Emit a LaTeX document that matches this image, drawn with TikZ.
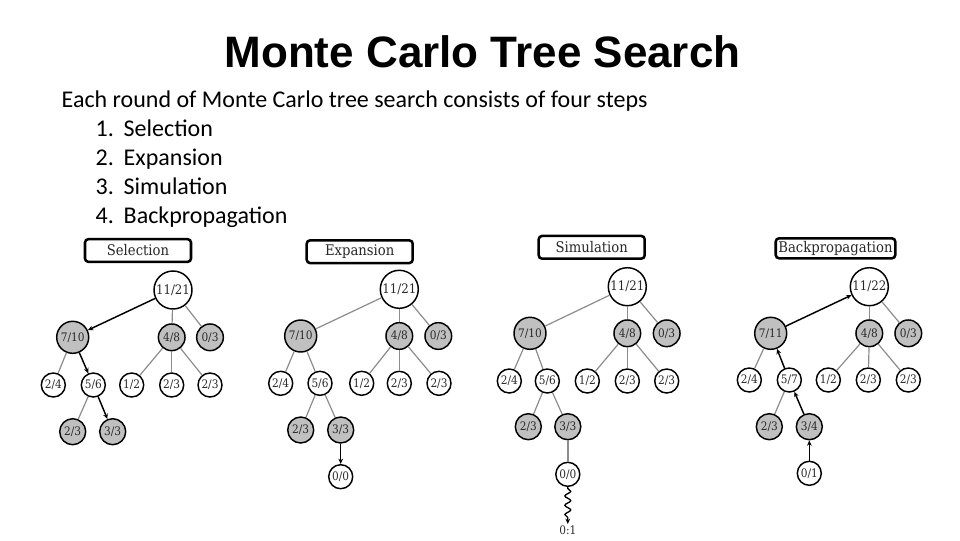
\documentclass[tikz,border=0pt]{standalone}
\usepackage{fontspec}
\setmainfont{Carlito}
\newfontfamily\titlefont{Liberation Sans}
\newfontfamily\treefont{DejaVu Serif Condensed}
\usetikzlibrary{arrows.meta,decorations.pathmorphing}
\definecolor{nodegray}{RGB}{192,192,192}
\definecolor{edgegray}{RGB}{140,140,140}
\definecolor{labelink}{RGB}{40,40,40}
\begin{document}
\begin{tikzpicture}[x=0.75pt,y=-0.75pt,
  tn/.style={circle,draw=black,line width=1.1pt,inner sep=0pt,text=labelink,font=\treefont\fontsize{8.8}{10}\selectfont},
  wn/.style={tn,fill=white},
  gn/.style={tn,fill=nodegray},
  rootn/.style={wn,minimum size=28.5pt,font=\treefont\fontsize{9.8}{11}\selectfont},
  bign/.style={gn,minimum size=24pt},
  midn/.style={gn,minimum size=20pt},
  smw/.style={wn,minimum size=18pt},
  smg/.style={gn,minimum size=19.5pt},
  gedge/.style={draw=edgegray,line width=0.9pt},
  bedge/.style={draw=black,line width=1.1pt,-{Stealth[length=4pt,width=3.5pt]}},
  steplabel/.style={draw=black,fill=white,line width=1.9pt,rounded corners=2.5pt,inner xsep=2.5pt,inner ysep=0pt,minimum height=17pt,text=labelink,font=\treefont\fontsize{11}{12}\selectfont},
  bodytext/.style={anchor=base west,font=\fontsize{18}{22}\selectfont},
  result/.style={inner sep=1pt,font=\treefont\fontsize{8.8}{10}\selectfont,text=labelink}
]
\useasboundingbox (0,0) rectangle (960,540);

% title and text
\node[anchor=base,font=\titlefont\bfseries\fontsize{33}{40}\selectfont] (title) at (482.5,67) {Monte Carlo Tree Search};
\node[bodytext] (intro) at (57,107) {Each round of Monte Carlo tree search consists of four steps};
\node[bodytext] (n1) at (91,136) {1.};
\node[bodytext] (s1) at (119,136) {Selection};
\node[bodytext] (n2) at (91,165) {2.};
\node[bodytext] (s2) at (119,165) {Expansion};
\node[bodytext] (n3) at (91,194) {3.};
\node[bodytext] (s3) at (119,194) {Simulation};
\node[bodytext] (n4) at (91,223) {4.};
\node[bodytext] (s4) at (119,223) {Backpropagation};

% step labels
\node[steplabel,minimum width=79.5pt] (labA) at (138,250.5) {Selection};
\node[steplabel,minimum width=79.5pt] (labB) at (359.7,251.7) {Expansion};
\node[steplabel,minimum width=79.5pt] (labC) at (591.7,247.3) {Simulation};
\node[steplabel,minimum height=15pt,inner xsep=2pt] (labD) at (835.5,248.3) {Backpropagation};

% ---------- Tree A: Selection
\node[rootn] (aR) at (173,290) {11/21};
\node[bign] (a1) at (72.7,337.3) {7/10};
\node[midn] (a2) at (171.7,337.3) {4/8};
\node[midn] (a3) at (210,337.3) {0/3};
\node[smw] (a11) at (53.3,385) {2/4};
\node[smw] (a12) at (93.3,385) {5/6};
\node[smw] (a21) at (131.7,385) {1/2};
\node[smw] (a22) at (171.7,385) {2/3};
\node[smw] (a23) at (210,385) {2/3};
\node[smg] (a121) at (72.7,431.7) {2/3};
\node[smg] (a122) at (112.7,431.7) {3/3};
\draw[bedge] (aR) -- (a1);
\draw[gedge] (aR) -- (a2);
\draw[gedge] (aR) -- (a3);
\draw[gedge] (a1) -- (a11);
\draw[bedge] (a1) -- (a12);
\draw[gedge] (a2) -- (a21);
\draw[gedge] (a2) -- (a22);
\draw[gedge] (a2) -- (a23);
\draw[gedge] (a12) -- (a121);
\draw[bedge] (a12) -- (a122);

% ---------- Tree B: Expansion
\node[rootn] (bR) at (399.3,289.3) {11/21};
\node[bign] (b1) at (300.7,336) {7/10};
\node[midn] (b2) at (399.3,336) {4/8};
\node[midn] (b3) at (438.3,336) {0/3};
\node[smw] (b11) at (280.7,383.3) {2/4};
\node[smw] (b12) at (320,383.3) {5/6};
\node[smw] (b21) at (361.7,383.3) {1/2};
\node[smw] (b22) at (399.3,383.3) {2/3};
\node[smw] (b23) at (439,383.3) {2/3};
\node[smg] (b121) at (300.7,430) {2/3};
\node[smg] (b122) at (340.7,430) {3/3};
\node[smw] (b1221) at (340.7,476.7) {0/0};
\draw[gedge] (bR) -- (b1);
\draw[gedge] (bR) -- (b2);
\draw[gedge] (bR) -- (b3);
\draw[gedge] (b1) -- (b11);
\draw[gedge] (b1) -- (b12);
\draw[gedge] (b2) -- (b21);
\draw[gedge] (b2) -- (b22);
\draw[gedge] (b2) -- (b23);
\draw[gedge] (b12) -- (b121);
\draw[gedge] (b12) -- (b122);
\draw[bedge] (b122) -- (b1221);

% ---------- Tree C: Simulation
\node[rootn] (cR) at (627.3,286.7) {11/21};
\node[bign] (c1) at (530,333.3) {7/10};
\node[midn] (c2) at (627.3,333.3) {4/8};
\node[midn] (c3) at (666.7,333.3) {0/3};
\node[smw] (c11) at (509.3,381) {2/4};
\node[smw] (c12) at (547.3,381) {5/6};
\node[smw] (c21) at (587.3,381) {1/2};
\node[smw] (c22) at (627.3,381) {2/3};
\node[smw] (c23) at (666.7,381) {2/3};
\node[smg] (c121) at (528.3,426.7) {2/3};
\node[smg] (c122) at (567.8,426.7) {3/3};
\node[smw] (c1221) at (567.8,474.3) {0/0};
\node[result] (cres) at (567.8,530) {0:1};
\draw[gedge] (cR) -- (c1);
\draw[gedge] (cR) -- (c2);
\draw[gedge] (cR) -- (c3);
\draw[gedge] (c1) -- (c11);
\draw[gedge] (c1) -- (c12);
\draw[gedge] (c2) -- (c21);
\draw[gedge] (c2) -- (c22);
\draw[gedge] (c2) -- (c23);
\draw[gedge] (c12) -- (c121);
\draw[gedge] (c12) -- (c122);
\draw[gedge,line width=1.3pt] (c122) -- (c1221);
\draw[black,line width=1pt,-{Stealth[length=4pt,width=3.5pt]},decorate,decoration={snake,amplitude=2.2pt,segment length=7pt,pre length=1pt,post length=4pt}] (c1221) -- (cres);

% ---------- Tree D: Backpropagation
\node[rootn] (dR) at (869.3,286.7) {11/22};
\node[bign] (d1) at (770.7,333.3) {7/11};
\node[midn] (d2) at (869.3,333.3) {4/8};
\node[midn] (d3) at (908.3,333.3) {0/3};
\node[smw] (d11) at (749.3,380) {2/4};
\node[smw] (d12) at (789.3,380) {5/7};
\node[smw] (d21) at (828.3,380) {1/2};
\node[smw] (d22) at (868.3,380) {2/3};
\node[smw] (d23) at (908.3,380) {2/3};
\node[smg] (d121) at (769.3,426.7) {2/3};
\node[smg] (d122) at (809.3,426.7) {3/4};
\node[smw] (d1221) at (809.3,473.3) {0/1};
\draw[bedge] (d1) -- (dR);
\draw[gedge] (dR) -- (d2);
\draw[gedge] (dR) -- (d3);
\draw[gedge] (d1) -- (d11);
\draw[bedge] (d12) -- (d1);
\draw[gedge] (d2) -- (d21);
\draw[gedge] (d2) -- (d22);
\draw[gedge] (d2) -- (d23);
\draw[gedge] (d12) -- (d121);
\draw[bedge] (d122) -- (d12);
\draw[bedge] (d1221) -- (d122);
\end{tikzpicture}
\end{document}
